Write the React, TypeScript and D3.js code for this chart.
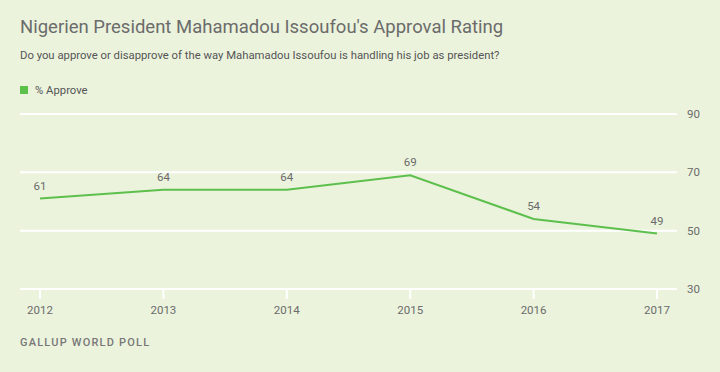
import React, { useEffect, useRef } from 'react'
import * as d3 from 'd3'

const years = ['2012', '2013', '2014', '2015', '2016', '2017']
const approve = [61, 64, 64, 69, 54, 49]
const yTicks = [30, 50, 70, 90]

const W = 720, H = 372

export default function App() {
  const ref = useRef<SVGSVGElement>(null)

  useEffect(() => {
    const svg = d3.select(ref.current)
    svg.selectAll('*').remove()

    const font = 'Roboto, "Open Sans", Arial, sans-serif'
    const grey = '#6b6b6b'
    const green = '#5dbf4c'

    svg.append('rect').attr('width', W).attr('height', H).attr('fill', '#ebf3dd')

    svg.append('text').attr('x', 20).attr('y', 33)
      .style('font', `18.5px ${font}`).attr('fill', grey)
      .text("Nigerien President Mahamadou Issoufou's Approval Rating")

    svg.append('text').attr('x', 20).attr('y', 59)
      .style('font', `11.3px ${font}`).attr('fill', '#555')
      .text('Do you approve or disapprove of the way Mahamadou Issoufou is handling his job as president?')

    svg.append('rect').attr('x', 20).attr('y', 86).attr('width', 8).attr('height', 8).attr('fill', green)
    svg.append('text').attr('x', 35).attr('y', 94)
      .style('font', `11.3px ${font}`).attr('fill', '#555')
      .text('% Approve')

    const x = d3.scalePoint().domain(years).range([40, 657])
    const y = d3.scaleLinear().domain([30, 90]).range([289, 114])

    // gridlines
    svg.append('g').selectAll('line').data(yTicks).enter().append('line')
      .attr('x1', 20).attr('x2', 677)
      .attr('y1', d => y(d)).attr('y2', d => y(d))
      .attr('stroke', '#fff').attr('stroke-width', 2)

    svg.append('g').selectAll('text').data(yTicks).enter().append('text')
      .attr('x', 687).attr('y', d => y(d) + 4)
      .style('font', `11.5px ${font}`).attr('fill', grey)
      .text(d => d)

    // x ticks
    svg.append('g').selectAll('line').data(years).enter().append('line')
      .attr('x1', d => x(d)!).attr('x2', d => x(d)!)
      .attr('y1', y(30)).attr('y2', y(30) + 10)
      .attr('stroke', '#fff').attr('stroke-width', 2)

    svg.append('g').selectAll('text').data(years).enter().append('text')
      .attr('x', d => x(d)!).attr('y', 314)
      .attr('text-anchor', 'middle')
      .style('font', `11.5px ${font}`).attr('fill', grey)
      .text(d => d)

    const line = d3.line<number>().x((d, i) => x(years[i])!).y(d => y(d))
    svg.append('path').datum(approve).attr('d', line)
      .attr('fill', 'none').attr('stroke', green).attr('stroke-width', 2)

    svg.append('g').selectAll('text').data(approve).enter().append('text')
      .attr('x', (d, i) => x(years[i])!).attr('y', d => y(d) - 9)
      .attr('text-anchor', 'middle')
      .style('font', `11.5px ${font}`).attr('fill', grey)
      .text(d => d)

    svg.append('text').attr('x', 20).attr('y', 346)
      .style('font', `500 11px ${font}`).style('letter-spacing', '1.2px').attr('fill', '#777')
      .text('GALLUP WORLD POLL')
  }, [])

  return <svg ref={ref} width={W} height={H} style={{ position: 'absolute', left: 0, top: 0 }} />
}
